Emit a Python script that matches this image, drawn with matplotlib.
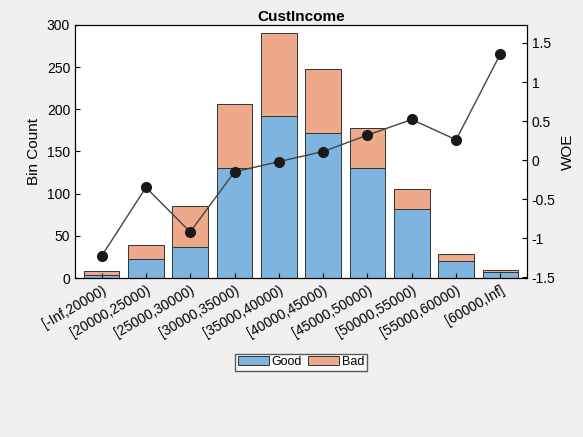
import matplotlib
matplotlib.use("Agg")
import matplotlib.pyplot as plt
import numpy as np

bins = ["[-Inf,20000)", "[20000,25000)", "[25000,30000)", "[30000,35000)", "[35000,40000)",
        "[40000,45000)", "[45000,50000)", "[50000,55000)", "[55000,60000)", "[60000,Inf]"]
good = [3, 22, 37, 130, 192, 172, 130, 82, 20, 7]
bad = [5, 17, 48, 76, 98, 76, 48, 24, 9, 2]
woe = [-1.23, -0.35, -0.92, -0.15, -0.02, 0.11, 0.32, 0.52, 0.26, 1.36]

plt.rcParams['font.family'] = ['Liberation Sans', 'DejaVu Sans']
fig = plt.figure(figsize=(5.83, 4.37), dpi=100, facecolor='#f0f0f0')
ax = fig.add_axes([75/583, 1-278/437, (527-75)/583, (278-25)/437])
x = np.arange(len(bins)) + 1
gc, bc = '#7eb4dd', '#eda98a'
ax.bar(x, good, width=0.8, color=gc, edgecolor='#333333', linewidth=0.7, label='Good')
ax.bar(x, bad, bottom=good, width=0.8, color=bc, edgecolor='#333333', linewidth=0.7, label='Bad')
ax.set_xlim(0.4, 10.6)
ax.set_ylim(0, 300)
ax.set_ylabel('Bin Count', fontsize=11)
ax.set_title('CustIncome', fontsize=11, fontweight='bold', pad=3)
ax.set_xticks(x)
ax.set_xticklabels(bins, rotation=30, ha='right', rotation_mode='anchor', fontsize=10)
ax.tick_params(direction='in', labelsize=10, top=False)
ax2 = ax.twinx()
ax2.plot(x, woe, color='#444444', linewidth=1, marker='o', markersize=7, markerfacecolor='#1a1a1a', markeredgecolor='#1a1a1a')
ax2.set_ylim(-1.51, 1.73)
ax2.set_yticks([-1.5, -1, -0.5, 0, 0.5, 1, 1.5])
ax2.set_yticklabels(['-1.5', '-1', '-0.5', '0', '0.5', '1', '1.5'])
ax2.set_ylabel('WOE', fontsize=11)
ax2.tick_params(direction='in', labelsize=10)
h, l = ax.get_legend_handles_labels()
fig.legend(h, l, loc='center', bbox_to_anchor=(301/583, 1-362/437), ncol=2, fontsize=9,
           frameon=True, fancybox=False, edgecolor='#333333', handlelength=2.5,
           borderpad=0.2, columnspacing=0.5, handletextpad=0.2)
fig.savefig('out.png', dpi=100, facecolor=fig.get_facecolor())
